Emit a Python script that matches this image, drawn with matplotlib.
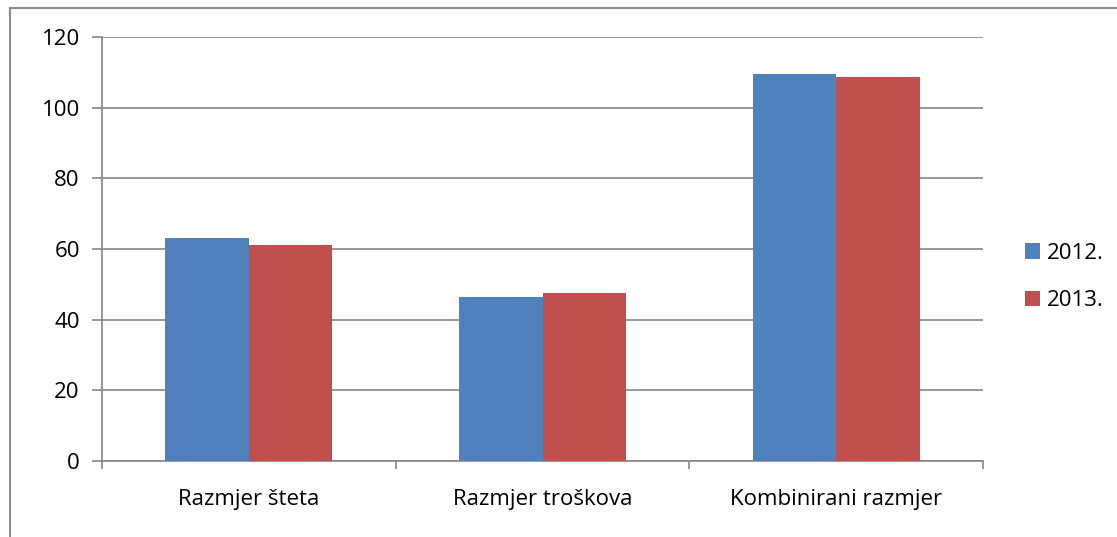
import matplotlib.pyplot as plt
import numpy as np
from matplotlib.patches import Rectangle

categories = ["Razmjer šteta", "Razmjer troškova", "Kombinirani razmjer"]
series_names = ["2012.", "2013."]
values_2012 = [63.0, 46.4, 109.4]
values_2013 = [61.2, 47.6, 108.7]
yticks = [0, 20, 40, 60, 80, 100, 120]

colors = ["#4F81BD", "#C0504D"]
grid_color = "#868686"
fsize = 16

plt.rcParams['font.family'] = ['Open Sans', 'DejaVu Sans']

def main():
  fig = plt.figure(figsize=(11.17, 5.37), dpi=100)
  ax = fig.add_axes([102 / 1117, 1 - 461 / 537, 881 / 1117, 424 / 537])

  # outer chart frame
  fig.patches.append(Rectangle((10 / 1117, -0.1), 1.2, (537 - 8) / 537 + 0.1,
                               transform=fig.transFigure, fill=False,
                               edgecolor="#8c8c8c", linewidth=1.5))

  x = np.arange(len(categories))
  w = 0.284
  ax.bar(x - w / 2, values_2012, w, color=colors[0], label=series_names[0], zorder=3)
  ax.bar(x + w / 2, values_2013, w, color=colors[1], label=series_names[1], zorder=3)

  ax.set_xlim(-0.5, len(categories) - 0.5)
  ax.set_ylim(0, 120)
  ax.set_yticks(yticks)
  ax.set_yticklabels([str(t) for t in yticks], fontsize=fsize)
  ax.yaxis.grid(True, color=grid_color, linewidth=1.2, zorder=0)
  ax.set_axisbelow(True)

  ax.set_xticks(x)
  ax.set_xticklabels(categories, fontsize=fsize)
  ax.tick_params(axis='x', length=0, pad=20)
  ax.set_xticks(np.arange(-0.5, len(categories)), minor=True)
  ax.tick_params(axis='x', which='minor', length=6, width=1.2, color=grid_color, direction='out')
  ax.tick_params(axis='y', length=7, width=1.2, color=grid_color, pad=9)

  for s in ['top', 'right']:
    ax.spines[s].set_visible(False)
  for s in ['left', 'bottom']:
    ax.spines[s].set_color(grid_color)
    ax.spines[s].set_linewidth(1.2)

  fig.legend(loc='center left', bbox_to_anchor=(1016 / 1117, 1 - 277 / 537),
             frameon=False, fontsize=fsize, handlelength=0.7, handleheight=0.7,
             handletextpad=0.3, labelspacing=1.2, borderaxespad=0)
  fig.savefig("out.png", dpi=100)

if __name__ == "__main__":
  main()
